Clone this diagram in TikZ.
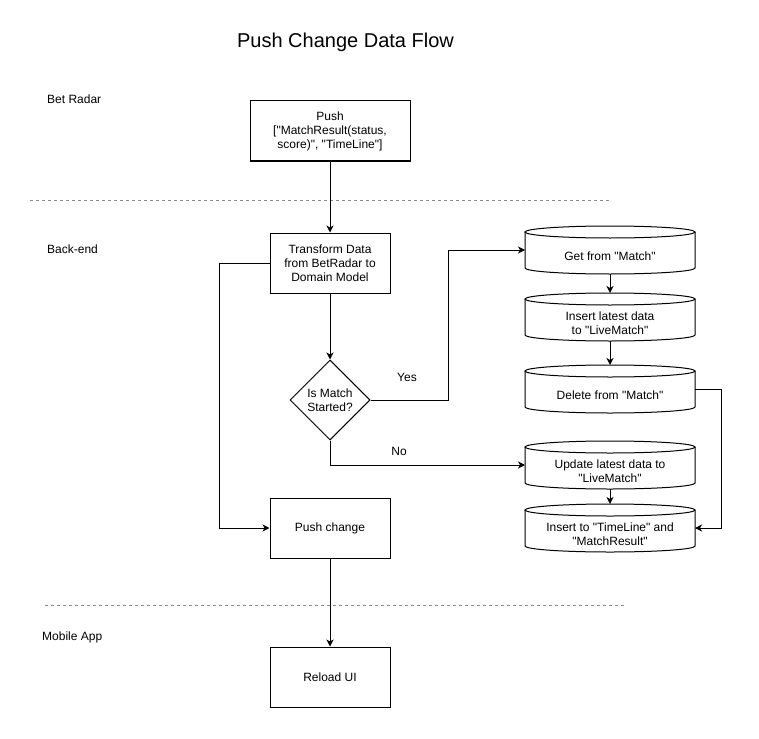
\documentclass[tikz,border=0pt]{standalone}
\usepackage{fontspec}
\setmainfont{Liberation Sans}[Ligatures=TeXOff]
\usepackage{tikz}
\usetikzlibrary{positioning,shapes,arrows.meta,calc}
\definecolor{lanegray}{HTML}{8C8C8C}

\begin{document}
\begin{tikzpicture}[x=1pt,y=1pt,
    font=\fontsize{12}{14}\selectfont,
    box/.style={draw, line width=1pt, minimum width=120pt, minimum height=60pt, align=center, inner sep=2pt},
    decide/.style={diamond, draw, line width=1pt, minimum width=80pt, minimum height=80pt, aspect=1, inner sep=0pt, align=center},
    cyl/.style={minimum width=170pt, minimum height=48pt, inner sep=0pt, outer sep=0pt},
    cyltext/.style={yshift=-6pt, align=center},
    lane/.style={anchor=west, inner sep=0pt},
    arr/.style={line width=1pt, -{Stealth[length=7pt,width=7pt,inset=2pt]}},
    sep/.style={lanegray, line width=1pt, dash pattern=on 3pt off 3pt}]
      \fill[white] (0,0) rectangle (759,-738);
      \useasboundingbox (0,0) rectangle (759,-738);

      \node[font=\fontsize{20}{24}\selectfont] (title) at (345.5,-42) {Push Change Data Flow};

      \node[lane] (betradar) at (47,-99) {Bet Radar};
      \node[lane] (backend) at (47,-249) {Back-end};
      \node[lane] (mobile) at (42,-637) {Mobile App};

      \draw[sep] (30,-200) -- (610,-200);
      \draw[sep] (45,-605) -- (625,-605);

      \node[box, minimum width=160pt] (push) at (330,-131) {Push\\{}["MatchResult(status,\\score)", "TimeLine"]};
      \node[box] (trans) at (330,-263) {Transform Data\\from BetRadar to\\Domain Model};
      \node[decide] (started) at (330,-400) {Is Match\\Started?};
      \node[box] (pushc) at (330,-528) {Push change};
      \node[box] (reload) at (330,-677) {Reload UI};

      \node[cyl, label={[cyltext]center:Get from "Match"}] (getm) at (610,-250) {};
      \node[cyl, label={[cyltext]center:{Insert latest data\\to "LiveMatch"}}] (insl) at (610,-317) {};
      \node[cyl, label={[cyltext]center:Delete from "Match"}] (delm) at (610,-389) {};
      \node[cyl, label={[cyltext]center:{Update latest data to\\"LiveMatch"}}] (updl) at (610,-465) {};
      \node[cyl, label={[cyltext]center:{Insert to "TimeLine" and\\"MatchResult"}}] (inst) at (610,-528) {};

      \foreach \c in {getm,insl,delm,updl,inst}{
        \draw[line width=1pt] ($(\c.north)+(0,-6)$) ellipse [x radius=85, y radius=6];
        \draw[line width=1pt] ($(\c.north west)+(0,-6)$) -- ($(\c.south west)+(0,6)$)
          arc [start angle=180, end angle=360, x radius=85, y radius=6] -- ($(\c.north east)+(0,-6)$);
      }

      \draw[arr] (push) -- (trans);
      \draw[arr] (trans) -- (started);
      \draw[arr] (started.east) -- ++(78,0) |- (getm.west);
      \draw[arr] (started.south) |- (updl.west);
      \draw[arr] (getm) -- (insl);
      \draw[arr] (insl) -- (delm);
      \draw[arr] (updl) -- (inst);
      \draw[arr] (delm.east) -- ++(26,0) |- (inst.east);
      \draw[arr] (trans.west) -- ++(-50,0) |- (pushc.west);
      \draw[arr] (pushc) -- (reload);

      \node (yes) at (407,-377) {Yes};
      \node (no) at (399,-451) {No};
    \end{tikzpicture}
\end{document}
